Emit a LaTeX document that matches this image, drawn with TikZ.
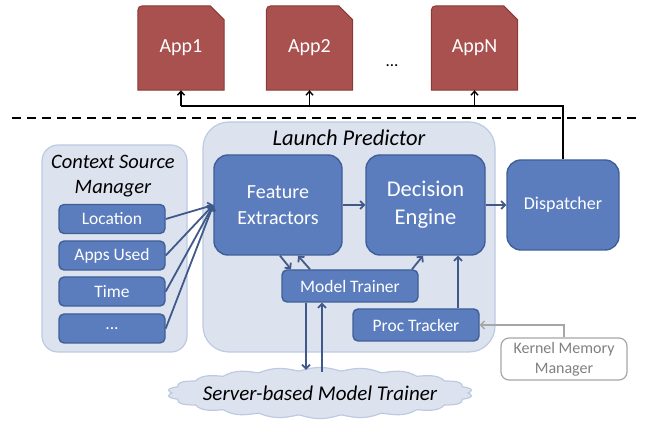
\documentclass[tikz,border=0pt]{standalone}
\usepackage{fontspec}
\setmainfont{Carlito}
\usetikzlibrary{arrows.meta,backgrounds}
\definecolor{appfill}{HTML}{A8514F}
\definecolor{appborder}{HTML}{8A3A38}
\definecolor{bluefill}{HTML}{5B7DBE}
\definecolor{blueborder}{HTML}{3F5F97}
\definecolor{contfill}{HTML}{DCE3EF}
\definecolor{contborder}{HTML}{BDCAE2}
\definecolor{arrowblue}{HTML}{41598A}
\definecolor{kgray}{HTML}{A6A6A6}
\definecolor{ktext}{HTML}{808080}
\newcommand\appshape[1]{%
  \draw[fill=appfill,draw=appborder,line width=1pt]
    (#1.south west) -- ([yshift=-10pt]#1.north west)
    .. controls (#1.north west) .. ([xshift=10pt]#1.north west)
    -- ([xshift=-14pt]#1.north east) -- ([yshift=-14pt]#1.north east)
    -- (#1.south east) -- cycle;}
\tikzset{
  appnode/.style={draw=none,minimum width=86pt,minimum height=84pt,text=white,font=\fontsize{20}{24}\selectfont,inner sep=0pt},
  container/.style={draw=contborder,fill=contfill,line width=1.2pt},
  bigbox/.style={draw=blueborder,fill=bluefill,line width=1.4pt,rounded corners=14pt,text=white,align=center,inner sep=0pt},
  smallbox/.style={draw=blueborder,fill=bluefill,line width=1.4pt,rounded corners=5pt,text=white,inner sep=0pt,font=\fontsize{17.5}{20}\selectfont},
  barrow/.style={draw=arrowblue,line width=1.8pt,-{Straight Barb[length=4pt,width=8pt]}},
  karrow/.style={draw=black,line width=1.4pt,-{Straight Barb[length=4pt,width=7pt]}},
  ititle/.style={font=\fontsize{20.5}{25}\selectfont\itshape,align=center,inner sep=0pt},
}
\begin{document}
\begin{tikzpicture}[x=1pt,y=-1pt]
\useasboundingbox (0,0) rectangle (649,422);
% apps
\node[appnode] (app1) at (181,48) {App1};
\node[appnode] (app2) at (309.5,48) {App2};
\node[appnode] (appn) at (474.5,48) {AppN};
\node[font=\fontsize{17}{20}\selectfont,inner sep=0pt] (dots) at (392,66) {...};
\begin{scope}[on background layer]
\appshape{app1}\appshape{app2}\appshape{appn}
\end{scope}
% dashed separator
\coordinate (dl) at (12,118);
\coordinate (dr) at (640,118);
\draw[line width=1.6pt,dash pattern=on 9pt off 6pt] (dl) -- (dr);
% containers
\node[container,rounded corners=16pt,minimum width=145pt,minimum height=207pt] (csm) at (114.5,248.5) {};
\node[ititle] (csmtitle) at (113,176) {Context Source\\Manager};
\node[container,rounded corners=26pt,minimum width=292pt,minimum height=230pt] (lp) at (349,237) {};
\node[ititle,font=\fontsize{22.5}{26}\selectfont\itshape] (lptitle) at (349,138) {Launch Predictor};
% context items
\node[smallbox,minimum width=106pt,minimum height=29pt] (loc) at (112,219) {Location};
\node[smallbox,minimum width=106pt,minimum height=29pt] (apps) at (112,255.5) {Apps Used};
\node[smallbox,minimum width=106pt,minimum height=29pt] (time) at (112,291.5) {Time};
\node[smallbox,minimum width=106pt,minimum height=29pt] (more) at (112,328.5) {...};
% main blocks
\node[bigbox,minimum width=128pt,minimum height=100pt,font=\fontsize{20}{26}\selectfont] (fe) at (278,205) {Feature\\Extractors};
\node[bigbox,minimum width=119pt,minimum height=100pt,font=\fontsize{22.5}{28}\selectfont] (de) at (425.5,205) {Decision\\Engine};
\node[bigbox,minimum width=112pt,minimum height=90pt,font=\fontsize{18}{22}\selectfont] (disp) at (563,205) {Dispatcher};
\node[smallbox,minimum width=136pt,minimum height=32pt] (mt) at (350,286) {Model Trainer};
\node[smallbox,minimum width=126pt,minimum height=32pt] (pt) at (416,325) {Proc Tracker};
\node[draw=kgray,fill=white,line width=1.2pt,rounded corners=8pt,minimum width=126pt,minimum height=42pt,align=center,text=ktext,inner sep=0pt,font=\fontsize{16}{20}\selectfont] (kmm) at (564,359) {Kernel Memory\\Manager};
% cloud
\node[draw=none,minimum width=305pt,minimum height=50pt,inner sep=0pt] (cloud) at (320,393) {};
\draw[draw=contborder,fill=contfill,line width=1.2pt]
  plot[domain=0:359,samples=360] ({320+148*cos(\x)*(1+0.03*abs(sin(11*\x)))},{393+22*sin(\x)*(1+0.16*abs(sin(11*\x)))}) -- cycle;
\node[font=\fontsize{21}{24}\selectfont\itshape,inner sep=0pt] (cloudtext) at (cloud.center) {Server-based Model Trainer};
% connectors: context -> FE
\foreach \s in {loc,apps,time,more} {\draw[barrow] (\s.east) -- (fe.west);}
\draw[barrow] (fe.east) -- (de.west);
\draw[barrow] (de.east) -- (disp.west);
\draw[barrow] ([xshift=2pt]fe.south) -- ([xshift=-59pt]mt.north);
\draw[barrow] ([xshift=-40pt]mt.north) -- ([xshift=20pt]fe.south);
\draw[barrow] ([xshift=62pt]mt.north) -- ([xshift=-2.5pt]de.south);
\draw[barrow] ([xshift=42pt]pt.north) -- ([xshift=42pt]pt.north |- de.south);
\draw[barrow] ([xshift=-44pt]mt.south) -- ([xshift=-44pt,yshift=-2pt]mt.south |- cloud.north);
\draw[barrow] ([xshift=-28pt,yshift=-4pt]mt.south |- cloud.north) -- ([xshift=-28pt]mt.south);
\draw[draw=kgray,line width=1.4pt,-{Straight Barb[length=4pt,width=8pt]}] (kmm.north) |- (pt.east);
% dispatcher bus to apps
\coordinate (bus) at (182,106);
\draw[line width=1.4pt] (app1.south |- bus) -| (disp.north);
\draw[karrow] (app1.south |- bus) -- (app1.south);
\draw[karrow] (app2.south |- bus) -- (app2.south);
\draw[karrow] (appn.south |- bus) -- (appn.south);
\end{tikzpicture}
\end{document}
